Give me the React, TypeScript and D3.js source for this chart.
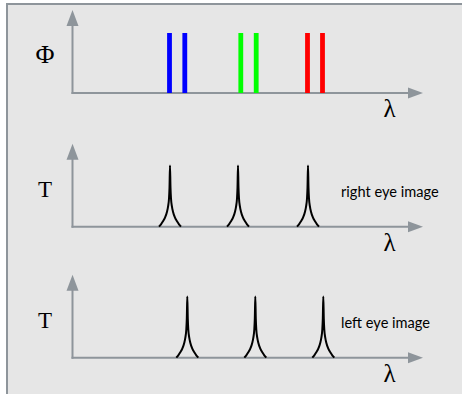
import React, { useEffect, useRef } from 'react';
import * as d3 from 'd3';

// wavelength positions (arbitrary units along the λ axis)
const sourceLambdas = [97, 112.3, 168.3, 183.7, 235, 250];
const sourceColors = ['#0000ff', '#0000ff', '#00ff00', '#00ff00', '#ff0000', '#ff0000'];
const sourceHeights = [1, 1, 1, 1, 1, 1];

const rightEyePeaks = [97.5, 165.5, 235.5];
const leftEyePeaks = [114.8, 182.8, 250.8];

// shape of one transmission peak: offset from centre vs relative height
const peakOffsets = [-11, -9, -7, -5, -3, -2, -1, -0.5, 0, 0.5, 1, 2, 3, 5, 7, 9, 11];
const peakValues = [0, 0.04, 0.09, 0.15, 0.25, 0.33, 0.47, 0.65, 1.02, 0.65, 0.47, 0.33, 0.25, 0.15, 0.09, 0.04, 0];

const panelYLabels = ['Φ', 'T', 'T'];
const panelNotes = ['', 'right eye image', 'left eye image'];

function App() {
  const ref = useRef<SVGSVGElement>(null);

  useEffect(() => {
    const svg = d3.select(ref.current);
    svg.selectAll('*').remove();

    const width = 462, height = 394;
    const axisColor = '#8e959b';
    const originX = 72.5;
    const axisYs = [93, 226.7, 357.7];

    svg.append('rect').attr('x', 6).attr('y', 3).attr('width', width - 6).attr('height', height - 3).attr('fill', '#e6e6e6');
    svg.append('line').attr('x1', 6).attr('x2', width).attr('y1', 4).attr('y2', 4).attr('stroke', axisColor).attr('stroke-width', 2);
    svg.append('line').attr('x1', 7).attr('x2', 7).attr('y1', 3).attr('y2', height).attr('stroke', axisColor).attr('stroke-width', 2);

    const x = d3.scaleLinear().domain([0, 350]).range([originX, originX + 350]);

    axisYs.forEach((ay, i) => {
      const y = d3.scaleLinear().domain([0, 1]).range([ay, ay - 60]);
      const g = svg.append('g');

      // axes with arrowheads
      g.append('line').attr('x1', originX).attr('x2', originX).attr('y1', ay + 1).attr('y2', ay - 68)
        .attr('stroke', axisColor).attr('stroke-width', 2);
      g.append('path').attr('d', `M${originX},${ay - 83}L${originX - 6},${ay - 67}L${originX + 6},${ay - 67}Z`).attr('fill', axisColor);
      g.append('line').attr('x1', originX - 1).attr('x2', 409).attr('y1', ay).attr('y2', ay)
        .attr('stroke', axisColor).attr('stroke-width', 2);
      g.append('path').attr('d', `M423,${ay}L408,${ay - 5.5}L408,${ay + 5.5}Z`).attr('fill', axisColor);

      g.append('text').attr('x', 389.5).attr('y', ay + 24).attr('text-anchor', 'middle')
        .attr('font-family', 'Liberation Serif').attr('font-size', 25).attr('fill', '#000').text('λ');
      g.append('text').attr('x', 45).attr('y', ay - 30).attr('text-anchor', 'middle')
        .attr('font-family', 'Liberation Serif').attr('font-size', i === 0 ? 26 : 23).attr('fill', '#000').text(panelYLabels[i]);
      if (panelNotes[i]) {
        g.append('text').attr('x', 341).attr('y', ay - 30).attr('font-family', 'Lato').attr('font-size', 14.6)
          .attr('fill', '#000').text(panelNotes[i]);
      }

      if (i === 0) {
        g.selectAll('rect.src').data(sourceLambdas).join('rect')
          .attr('x', d => x(d) - 2.4).attr('width', 4.8)
          .attr('y', (d, j) => y(sourceHeights[j])).attr('height', (d, j) => ay - y(sourceHeights[j]))
          .attr('fill', (d, j) => sourceColors[j]);
      } else {
        const peaks = i === 1 ? rightEyePeaks : leftEyePeaks;
        const line = d3.line<number>()
          .x((d, k) => x(d))
          .y((d, k) => y(peakValues[k]))
          .curve(d3.curveMonotoneX);
        peaks.forEach(c => {
          g.append('path').datum(peakOffsets.map(o => c + o))
            .attr('fill', 'none').attr('stroke', '#000').attr('stroke-width', 2).attr('d', line);
        });
      }
    });
  }, []);

  return <svg ref={ref} width="462" height="394" style={{ position: 'absolute', left: 0, top: 0 }}></svg>;
}

export default App;
